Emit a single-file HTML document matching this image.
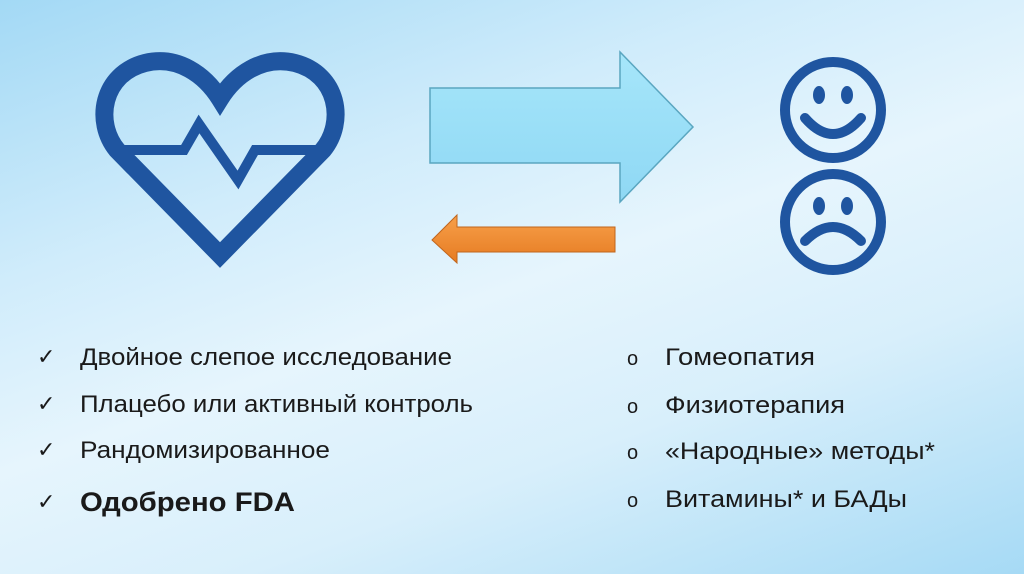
<!DOCTYPE html>
<html><head><meta charset="utf-8"><style>
html,body{margin:0;padding:0;width:1024px;height:574px;overflow:hidden}
body{background:linear-gradient(160deg,#a3d9f5 0%,#d0ecfb 30%,#e6f5fd 50%,#d8effb 70%,#a6daf5 100%)}
svg{display:block}
text{font-family:"Liberation Sans","DejaVu Sans",sans-serif;fill:#1a1a1a}
</style></head><body>
<svg width="1024" height="574" viewBox="0 0 1024 574">
<defs>
<linearGradient id="ba" x1="0" y1="0" x2="0" y2="1"><stop offset="0" stop-color="#a6e6fa"/><stop offset="1" stop-color="#8fd8f4"/></linearGradient>
<linearGradient id="oa" x1="0" y1="0" x2="0" y2="1"><stop offset="0" stop-color="#f7a04a"/><stop offset="1" stop-color="#e67b22"/></linearGradient>
</defs>
<path d="M220,255 L117,150 C94,122 102,74 145,63 C178,55 205,75 220,99 C235,75 262,55 295,63 C338,74 346,122 323,150 Z" fill="none" stroke="#1f55a0" stroke-width="18" stroke-linejoin="miter" stroke-miterlimit="10"/>
<polyline points="118,150 184,150 199,124 238,180 255,150 322,150" fill="none" stroke="#1f55a0" stroke-width="10" stroke-linejoin="miter"/>
<polygon points="430,88 620,88 620,52 693,127 620,202 620,163 430,163" fill="url(#ba)" stroke="#5aa6c0" stroke-width="1.5"/>
<polygon points="615,227 457,227 457,215 432,240 457,263 457,252 615,252" fill="url(#oa)" stroke="#c0651c" stroke-width="1"/>
<g fill="none" stroke="#1f55a0" stroke-width="10" stroke-linecap="round">
<circle cx="833" cy="110" r="48"/>
<path d="M805,118 Q833,150 861,118"/>
<circle cx="833" cy="222" r="48"/>
<path d="M805,241 Q833,213 861,241"/>
</g>
<g fill="#1f55a0">
<ellipse cx="819" cy="95" rx="6" ry="9"/><ellipse cx="847" cy="95" rx="6" ry="9"/>
<ellipse cx="819" cy="206" rx="6" ry="9"/><ellipse cx="847" cy="206" rx="6" ry="9"/>
</g>
<g font-size="24">
<text x="37" y="364" font-size="22">✓</text>
<text x="80" y="365" textLength="372" lengthAdjust="spacingAndGlyphs">Двойное слепое исследование</text>
<text x="37" y="411" font-size="22">✓</text>
<text x="80" y="412" textLength="393" lengthAdjust="spacingAndGlyphs">Плацебо или активный контроль</text>
<text x="37" y="457" font-size="22">✓</text>
<text x="80" y="458" textLength="250" lengthAdjust="spacingAndGlyphs">Рандомизированное</text>
<text x="37" y="509" font-size="22">✓</text>
<text x="80" y="511" font-size="27" font-weight="bold" textLength="215" lengthAdjust="spacingAndGlyphs">Одобрено FDA</text>
</g>
<g font-size="24">
<text x="627" y="365" font-size="20">o</text>
<text x="665" y="365" textLength="150" lengthAdjust="spacingAndGlyphs">Гомеопатия</text>
<text x="627" y="413" font-size="20">o</text>
<text x="665" y="413" textLength="180" lengthAdjust="spacingAndGlyphs">Физиотерапия</text>
<text x="627" y="459" font-size="20">o</text>
<text x="665" y="459" textLength="270" lengthAdjust="spacingAndGlyphs">«Народные» методы*</text>
<text x="627" y="507" font-size="20">o</text>
<text x="665" y="507" textLength="242" lengthAdjust="spacingAndGlyphs">Витамины* и БАДы</text>
</g>
</svg>
</body></html>
